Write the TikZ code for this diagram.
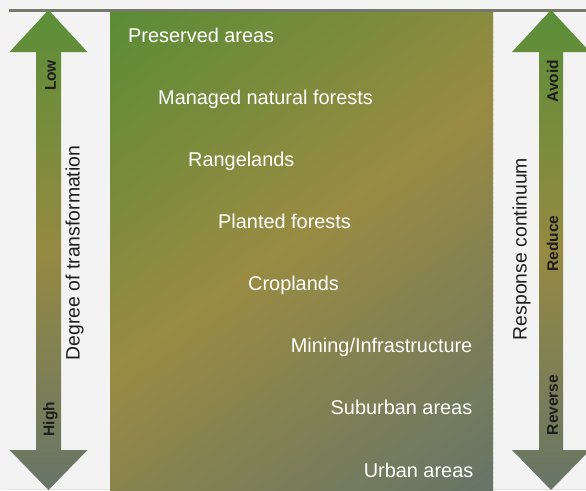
\documentclass[tikz,border=0pt]{standalone}
\usepackage{fontspec}
\setmainfont{Liberation Sans}
\definecolor{bgc}{HTML}{F3F3F3}
\definecolor{cgreen}{HTML}{5A8C36}
\definecolor{cgold}{HTML}{998B42}
\definecolor{cgray}{HTML}{677568}
\definecolor{agreen}{HTML}{5A8E38}
\definecolor{agold}{HTML}{968A42}
\definecolor{agray}{HTML}{677567}
\definecolor{linec}{HTML}{767A6C}
\definecolor{txtc}{HTML}{1E1E1E}
\tikzset{
  arrowshape/.style={shade, top color=agreen, bottom color=agray, middle color=agold, draw=none},
  stagelabel/.style={text=white, font=\fontsize{19.9}{24}\selectfont, inner sep=0pt},
  axislabel/.style={text=txtc, font=\fontsize{19.4}{24}\selectfont, rotate=90, inner sep=0pt},
  levellabel/.style={text=txtc, font=\bfseries\fontsize{15.5}{18}\selectfont, rotate=90, inner sep=0pt}
}
% strip of the diagonal gradient between t=#1 and t=#2 (pixels along direction d)
\newcommand{\gradstrip}[3]{%
  \pgfmathsetmacro\xa{110+#1*0.58}\pgfmathsetmacro\ya{10+#1*0.814}%
  \pgfmathsetmacro\xb{110+#2*0.58}\pgfmathsetmacro\yb{10+#2*0.814}%
  \fill[#3] ({\xa-800*0.814},{\ya+800*0.58}) -- ({\xa+800*0.814},{\ya-800*0.58})
     -- ({\xb+800*0.814},{\yb-800*0.58}) -- ({\xb-800*0.814},{\yb+800*0.58}) -- cycle;}
\begin{document}
\begin{tikzpicture}[x=1pt,y=-1pt]
\useasboundingbox (0,0) rectangle (586,490);
\fill[bgc] (0,0) rectangle (586,490);
% faint bottom line
\draw[color=black!12, line width=0.8pt] (8,489) -- (586,489);
% main gradient panel
\begin{scope}
  \clip (110,10) rectangle (493,490);
  \foreach \i in {0,...,73} {
    \pgfmathsetmacro\ta{\i*4}
    \pgfmathsetmacro\tb{\ta+5}
    \pgfmathsetmacro\pc{(\ta+2)/295*100}
    \colorlet{stripc}{cgold!\pc!cgreen}
    \gradstrip{\ta}{\tb}{stripc}
  }
  \foreach \i in {0,...,80} {
    \pgfmathsetmacro\ta{295+\i*4}
    \pgfmathsetmacro\tb{\ta+5}
    \pgfmathsetmacro\pc{min(100,(\i*4+2)/318*100)}
    \colorlet{stripc}{cgray!\pc!cgold}
    \gradstrip{\ta}{\tb}{stripc}
  }
\end{scope}
% top rule
\draw[color=linec, line width=2.2pt] (9,10.5) -- (586,10.5);
% left double arrow
\path[arrowshape] (36,52) -- (9.5,52) -- (48.5,10) -- (87.5,52) -- (61,52) -- (61,450) -- (87.5,450) -- (48.5,490) -- (9.5,450) -- (36,450) -- cycle;
% right double arrow
\path[arrowshape] (539,52) -- (512,52) -- (551,10) -- (590,52) -- (563,52) -- (563,450) -- (590,450) -- (551,490) -- (512,450) -- (539,450) -- cycle;
% stage labels
\node[stagelabel, anchor=base west] (s1) at (128,42) {Preserved areas};
\node[stagelabel, anchor=base west] (s2) at (158,104) {Managed natural forests};
\node[stagelabel, anchor=base west] (s3) at (188,166) {Rangelands};
\node[stagelabel, anchor=base west] (s4) at (218,228) {Planted forests};
\node[stagelabel, anchor=base west] (s5) at (248,290) {Croplands};
\node[stagelabel, anchor=base east] (s6) at (472.5,352) {Mining/Infrastructure};
\node[stagelabel, anchor=base east] (s7) at (472.5,414) {Suburban areas};
\node[stagelabel, anchor=base east] (s8) at (473.5,477) {Urban areas};
% axis labels
\node[axislabel] (degree) at (74.5,253) {Degree of transformation};
\node[axislabel] (response) at (521.5,249) {Response continuum};
\node[levellabel] (low) at (50.5,75.5) {Low};
\node[levellabel] (high) at (50.5,419) {High};
\node[levellabel] (avoid) at (552.5,81) {Avoid};
\node[levellabel] (reduce) at (552.5,243.5) {Reduce};
\node[levellabel] (reverse) at (552.5,405) {Reverse};
\end{tikzpicture}
\end{document}
